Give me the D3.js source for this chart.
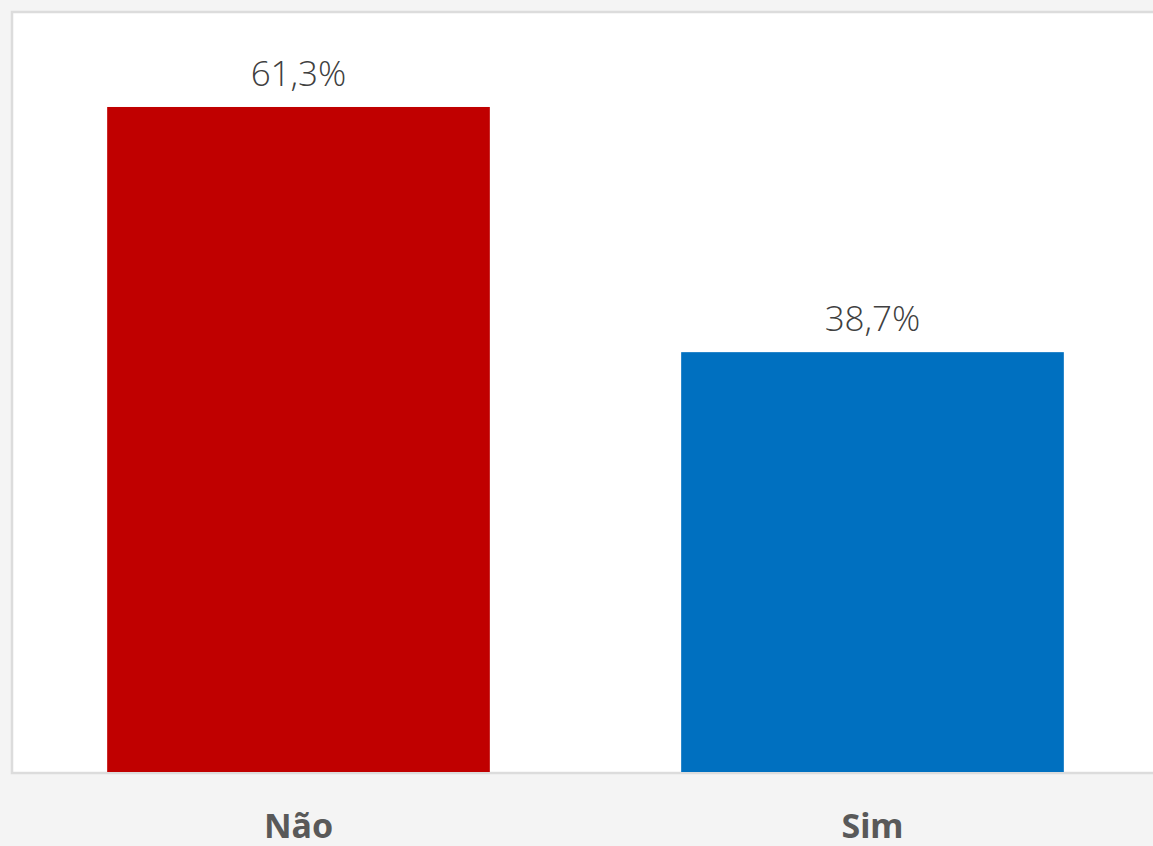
<!DOCTYPE html>
<html><head><meta charset="utf-8">
<script src="https://cdn.jsdelivr.net/npm/d3@7"></script>
<style>html,body{margin:0;padding:0;background:#f4f4f4;}svg{display:block;}</style>
</head><body>
<script>
const categories = ["Não", "Sim"];
const values = [61.3, 38.7];
const valueLabels = ["61,3%", "38,7%"];
const colors = ["#c00000", "#0070c0"];

const W = 1153, H = 846;
const svg = d3.select("body").append("svg").attr("width", W).attr("height", H);
svg.append("rect").attr("width", W).attr("height", H).attr("fill", "#f4f4f4");

// panel
svg.append("rect").attr("x", 12).attr("y", 12).attr("width", W + 10).attr("height", 761)
  .attr("fill", "#ffffff").attr("stroke", "#dcdcdc").attr("stroke-width", 2.5);

const x = d3.scaleBand().domain(categories).range([11.5, 1159.5]).paddingInner(1/3).paddingOuter(1/6);
const y = d3.scaleLinear().domain([0, 70]).range([772, 12.6]);

svg.selectAll("rect.bar").data(values).enter().append("rect").attr("class", "bar")
  .attr("x", (d, i) => x(categories[i]))
  .attr("width", x.bandwidth())
  .attr("y", d => y(d))
  .attr("height", d => y(0) - y(d))
  .attr("fill", (d, i) => colors[i]);

svg.selectAll("text.val").data(values).enter().append("text").attr("class", "val")
  .attr("x", (d, i) => x(categories[i]) + x.bandwidth() / 2)
  .attr("y", d => y(d) - 21)
  .attr("text-anchor", "middle")
  .attr("font-family", "'Open Sans', 'Noto Sans', sans-serif")
  .attr("font-size", 35)
  .attr("font-weight", 300)
  .attr("fill", "#404040")
  .text((d, i) => valueLabels[i]);

const xAxis = d3.axisBottom(x).tickSize(0).tickPadding(0);
const gx = svg.append("g").attr("transform", "translate(0,838)").call(xAxis);
gx.select(".domain").remove();
gx.selectAll("text").attr("dy", 0)
  .attr("font-family", "'Noto Sans', 'Open Sans', sans-serif")
  .attr("font-size", 34).attr("font-weight", "bold").attr("fill", "#595959");
</script>
</body></html>
